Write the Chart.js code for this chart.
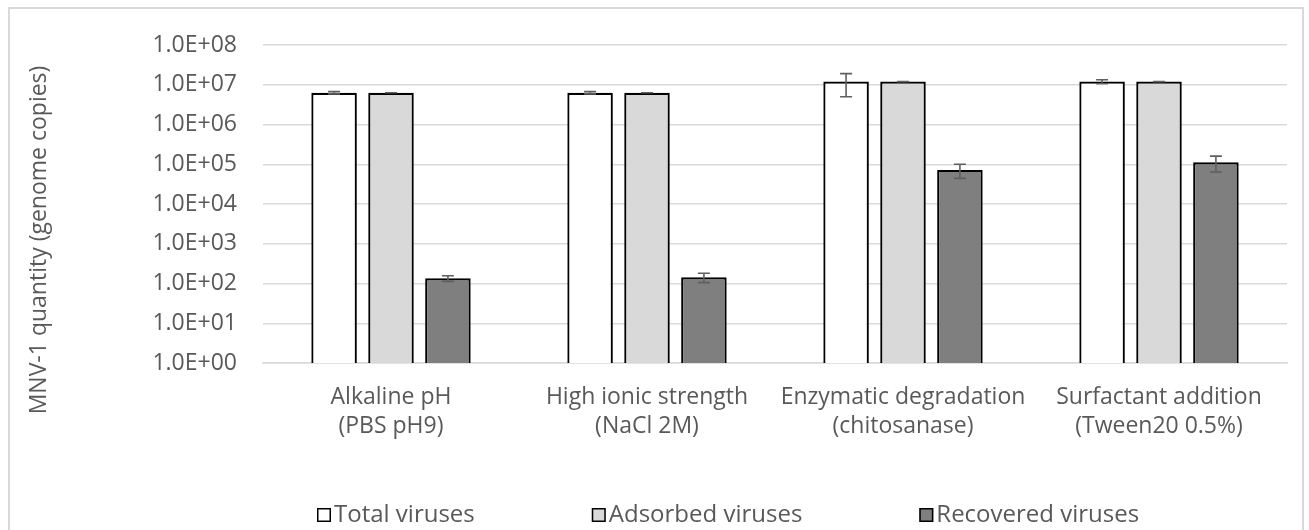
<!DOCTYPE html>
<html><head><meta charset="utf-8">
<script src="https://cdn.jsdelivr.net/npm/chart.js@4/dist/chart.umd.min.js"></script>
<style>
html,body{margin:0;padding:0;background:#fff;}
#wrap{position:relative;width:1309px;height:530px;overflow:hidden;}
#frame{position:absolute;left:8px;top:7px;width:1296px;height:580px;border:2px solid #d9d9d9;box-sizing:border-box;}
canvas{position:absolute;left:0;top:0;}
</style></head><body>
<div id="wrap"><div id="frame"></div><canvas id="c" width="1309" height="530"></canvas></div>
<script>
// ---- data ----
const categories = [
  ["Alkaline pH", "(PBS pH9)"],
  ["High ionic strength", "(NaCl 2M)"],
  ["Enzymatic degradation", "(chitosanase)"],
  ["Surfactant addition", "(Tween20 0.5%)"]
];
const seriesNames = ["Total viruses", "Adsorbed viruses", "Recovered viruses"];
const totalViruses     = [6.3e6, 6.3e6, 1.2e7, 1.2e7];
const totalErrors      = [4e5, 4e5, 7.0e6, 1.4e6];
const adsorbedViruses  = [6.3e6, 6.3e6, 1.2e7, 1.2e7];
const adsorbedErrors   = [0, 0, 0, 0];
const recoveredViruses = [135, 143, 7.2e4, 1.12e5];
const recoveredErrors  = [22, 38, 2.8e4, 4.8e4];
const yTickValues = [1, 10, 100, 1e3, 1e4, 1e5, 1e6, 1e7, 1e8];
const yTickLabels = ["1.0E+00", "1.0E+01", "1.0E+02", "1.0E+03", "1.0E+04", "1.0E+05", "1.0E+06", "1.0E+07", "1.0E+08"];
const yAxisTitle = "MNV-1 quantity (genome copies)";

// ---- styles ----
const FONT = '"Open Sans", "Noto Sans", sans-serif';
const TEXT = '#595959';
const GRID = '#d9d9d9';
const fills = ['#ffffff', '#d9d9d9', '#7f7f7f'];
const errors = [totalErrors, adsorbedErrors, recoveredErrors];

const errorBarPlugin = {
  id: 'errorBars',
  afterDatasetsDraw(chart) {
    const ctx = chart.ctx, y = chart.scales.y;
    ctx.save();
    ctx.strokeStyle = '#5f5f5f';
    ctx.lineWidth = 1.6;
    chart.data.datasets.forEach((ds, di) => {
      const meta = chart.getDatasetMeta(di);
      meta.data.forEach((bar, i) => {
        const v = ds.data[i], e = errors[di][i];
        const yt = y.getPixelForValue(v + e);
        const yb = y.getPixelForValue(Math.max(v - e, 1));
        const x = bar.x, cap = 6;
        ctx.beginPath();
        ctx.moveTo(x, yt); ctx.lineTo(x, yb);
        ctx.moveTo(x - cap, yt); ctx.lineTo(x + cap, yt);
        ctx.moveTo(x - cap, yb); ctx.lineTo(x + cap, yb);
        ctx.stroke();
      });
    });
    ctx.restore();
  }
};

const extrasPlugin = {
  id: 'extras',
  afterDraw(chart) {
    const ctx = chart.ctx;
    ctx.save();
    // y axis title
    ctx.font = '23px ' + FONT;
    ctx.fillStyle = TEXT;
    ctx.textAlign = 'center';
    ctx.textBaseline = 'middle';
    ctx.translate(39, 240);
    ctx.rotate(-Math.PI / 2);
    ctx.fillText(yAxisTitle, 0, 0);
    ctx.restore();
    // legend
    ctx.save();
    ctx.font = '24px ' + FONT;
    ctx.textBaseline = 'middle';
    ctx.textAlign = 'left';
    let x = 317;
    const cy = 515;
    chart.data.datasets.forEach((ds) => {
      ctx.fillStyle = ds.backgroundColor;
      ctx.fillRect(x, cy - 7, 14, 14);
      ctx.strokeStyle = '#000';
      ctx.lineWidth = 1.5;
      ctx.strokeRect(x + 0.75, cy - 6.25, 12.5, 12.5);
      ctx.fillStyle = TEXT;
      ctx.fillText(ds.label, x + 17, cy);
      x += 17 + ctx.measureText(ds.label).width + 117;
    });
    ctx.restore();
  }
};

new Chart(document.getElementById('c'), {
  type: 'bar',
  data: {
    labels: categories,
    datasets: [
      { label: seriesNames[0], data: totalViruses, backgroundColor: fills[0] },
      { label: seriesNames[1], data: adsorbedViruses, backgroundColor: fills[1] },
      { label: seriesNames[2], data: recoveredViruses, backgroundColor: fills[2] }
    ].map(d => Object.assign(d, {
      borderColor: '#000', borderWidth: 2.2, borderSkipped: 'start',
      categoryPercentage: 0.667, barPercentage: 0.8
    }))
  },
  options: {
    responsive: false,
    animation: false,
    devicePixelRatio: 1,
    layout: { padding: { left: 0, right: 22, top: 45, bottom: 0 } },
    plugins: { legend: { display: false }, tooltip: { enabled: false } },
    scales: {
      x: {
        grid: { display: false, drawTicks: false },
        border: { display: true, color: GRID, width: 1.5 },
        ticks: {
          color: TEXT, padding: 20,
          font: { family: FONT, size: 23, lineHeight: '29px' },
          maxRotation: 0, autoSkip: false
        },
        afterFit(scale) { scale.height = 167; }
      },
      y: {
        type: 'logarithmic',
        min: 1, max: 1e8,
        grid: { color: GRID, lineWidth: 1.5, drawTicks: false },
        border: { display: false },
        afterBuildTicks(scale) { scale.ticks = yTickValues.map(v => ({ value: v })); },
        ticks: {
          color: TEXT, padding: 26,
          font: { family: FONT, size: 23 },
          callback: (v) => yTickLabels[yTickValues.indexOf(v)]
        },
        afterFit(scale) { scale.width = 263; }
      }
    }
  },
  plugins: [errorBarPlugin, extrasPlugin]
});
</script>
</body></html>
